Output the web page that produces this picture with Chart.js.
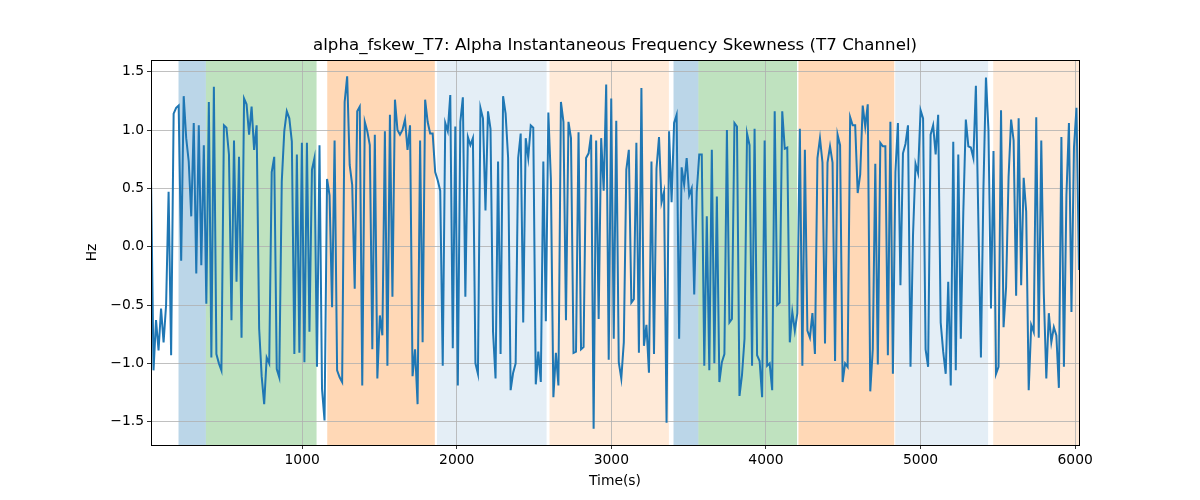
<!DOCTYPE html>
<html>
<head>
<meta charset="utf-8">
<script src="https://cdn.jsdelivr.net/npm/chart.js@4.4.1/dist/chart.umd.min.js"></script>
<style>
  html, body { margin: 0; padding: 0; background: #fff; }
  #wrap { width: 1200px; height: 500px; }
</style>
</head>
<body>
<div id="wrap"><canvas id="chart" width="1200" height="500"></canvas></div>
<script>
// sample times run evenly from first to last reading
const startTime = 22;
const endTime = 6025;

const fskewValues = [
  0.6, -1.06, -0.63, -0.89, -0.53, -0.82, -0.5, 0.47, -0.93, 1.14, 1.19, 1.21, -0.12, 1.29, 0.93, 0.73, 0.26, 1.06, -0.23, 1.04,
  -0.16, 0.87, -0.49, 1.24, -0.95, 1.37, -0.92, -1.0, -1.06, 1.04, 1.02, 0.79, -0.63, 0.91, -0.30, 0.77, -0.78,
  1.27, 1.22, 0.96, 1.2, 0.83, 1.04, -0.70, -1.11, -1.35, -0.95, -1.0, 0.64, 0.77, -1.05, -1.12, 0.56, 0.99, 1.16, 1.1, 0.9,
  -0.92, 0.79, -0.91, 0.89, -0.99, 0.89, -0.73, 0.66, 0.76, -1.03, 0.87, -1.22, -1.49, 0.58, 0.44, -0.52, 0.91, -1.06,
  -1.12, -1.16, 1.24, 1.46, 0.70, 0.53, -0.36, 1.16, 1.2, -1.19, 1.07, 0.99, 0.87, -0.88, 0.96, -1.13, -0.59, -0.76, 0.99, -1.02,
  1.13, -0.43, 1.26, 1.0, 0.96, 1.0, 1.09, 0.83, 1.04, -1.11, -0.88, -1.35, 0.91, -0.82, 1.26, 1.07,
  0.97, 0.97, 0.64, 0.57, 0.48, -1.02, 1.06, 0.99, 1.3, -0.87, 1.03, -1.19, 1.07, 1.28, -0.43, 0.94, 0.87, 0.93, -1.0, -1.09,
  1.19, 1.1, 0.31, 1.16, 1.01, -0.73, -1.13, 0.73, -0.92, 1.29, 1.14, 0.76, -1.23, -1.08, -1.0, 0.76, 0.97,
  -0.65, 0.93, 0.76, 1.04, 1.02, -1.18, -0.9, -1.16, 0.73, -0.64, 1.15, 0.58, -1.29, -0.91, -1.19, 1.24, 1.07, -0.63, 1.07, 0.93,
  -0.91, -0.9, 0.98, -0.88, -0.86, 0.76, 0.8, 0.96, -1.56, 0.91, -0.62, 0.93, 0.48, 1.39, -0.97, 1.27,
  -0.79, 1.08, -0.99, -1.13, -0.82, 0.66, 0.83, -0.48, -0.45, 0.89, -0.91, 1.36, -0.85, -0.67, -1.08, 0.73, -0.92, 0.67, 0.94, 0.38,
  0.47, -1.51, 0.99, 0.38, 1.06, 1.13, -0.79, 0.68, 0.53, 0.76, 0.44, 0.5, -0.41, 0.47, 0.79, 0.79,
  -1.02, 0.26, -1.06, 0.83, -1.0, 0.43, -1.16, -0.99, -0.92, 1.0, -0.65, -0.62, 1.06, 1.03, -1.28, -1.1, -0.79, 0.97, 0.87, -1.02,
  1.01, -0.93, -0.98, -1.29, 0.91, -1.02, -1.0, -1.23, 1.16, -0.5, -0.48, 1.16, 0.84, 0.85, -0.82, -0.56, -0.72,
  -0.57, 1.01, -1.02, 0.83, -0.72, -0.78, -0.57, -0.92, 0.76, 0.93, 0.72, -0.83, 0.72, 0.86, 0.72, -0.98, 0.96, 0.87, -1.16, -1.0,
  -1.03, 1.11, 1.04, 1.04, 0.46, 0.62, 1.21, 1.03, 1.22, -1.24, -0.88, 0.71, -1.01, 0.89, 0.86, 0.86, -0.93, 1.07, -1.09,
  0.64, 1.06, -0.33, 0.8, 0.88, 1.04, -1.03, 0.1, 0.71, 0.63, 1.17, 1.1, -0.88, -1.03, 0.96, 1.04, 0.79, 1.13, -0.65, -0.9,
  -1.09, -0.3, -1.19, 0.9, -1.06, 0.79, -0.79, 0.3, 1.09, 0.86, 0.85, 0.76, 1.38, 0.2, -0.95, 0.5, 1.45, 1.0, -0.53, 0.82, -1.09,
  -1.03, 1.17, -0.69, -0.35, 0.6, 1.09, 0.91, -0.42, 1.1, -0.33, 0.59, 0.3, -1.23, -0.67, -0.73, 1.11, -0.78, 0.91, -0.4, -1.13,
  -0.57, -0.82, -0.69, -0.76, -1.21, 0.94, -1.03, 0.44, 1.06, -0.56, 0.85, 1.19, -0.2
];

const xTicks = [1000, 2000, 3000, 4000, 5000, 6000];
const yTicks = [-1.5, -1.0, -0.5, 0.0, 0.5, 1.0, 1.5];

// shaded stage segments (seconds)
const spanStart = [200, 377, 1162, 1872, 2600, 3402, 3563, 4210, 4836, 5470];
const spanEnd   = [377, 1093, 1858, 2581, 3372, 3563, 4201, 4830, 5437, 6100];
const spanKind  = ['blue', 'green', 'orange', 'paleblue', 'paleorange', 'blue', 'green', 'orange', 'paleblue', 'paleorange'];

const chartTitle = 'alpha_fskew_T7: Alpha Instantaneous Frequency Skewness (T7 Channel)';

const kindColor = {
  blue: 'rgba(31, 119, 180, 0.3)',
  green: 'rgba(44, 160, 44, 0.3)',
  orange: 'rgba(255, 127, 14, 0.3)',
  paleblue: 'rgba(31, 119, 180, 0.12)',
  paleorange: 'rgba(255, 127, 14, 0.16)'
};

const step = (endTime - startTime) / (fskewValues.length - 1);
const points = fskewValues.map((v, i) => ({ x: startTime + i * step, y: v }));

const FONT = "'DejaVu Sans', sans-serif";
const TICK_SIZE = 13.89;

const spanPlugin = {
  id: 'spans',
  beforeDraw(chart) {
    const { ctx, chartArea: a, scales: { x } } = chart;
    ctx.save();
    ctx.beginPath();
    ctx.rect(a.left, a.top, a.right - a.left, a.bottom - a.top);
    ctx.clip();
    spanStart.forEach((s, i) => {
      const x0 = x.getPixelForValue(s);
      const x1 = x.getPixelForValue(spanEnd[i]);
      ctx.fillStyle = kindColor[spanKind[i]];
      ctx.fillRect(x0, a.top, x1 - x0, a.bottom - a.top);
    });
    ctx.restore();
  }
};

// frame + title centred over the plot area, like matplotlib does
const framePlugin = {
  id: 'frame',
  afterDraw(chart) {
    const { ctx, chartArea: a } = chart;
    ctx.save();
    ctx.strokeStyle = '#000';
    ctx.lineWidth = 1;
    ctx.strokeRect(Math.round(a.left) + 0.5, Math.round(a.top) + 0.5,
      Math.round(a.right - a.left), Math.round(a.bottom - a.top));
    ctx.fillStyle = '#000';
    ctx.font = '16.67px ' + FONT;
    ctx.textAlign = 'center';
    ctx.textBaseline = 'middle';
    ctx.fillText(chartTitle, (a.left + a.right) / 2, 46);
    ctx.restore();
  }
};

new Chart(document.getElementById('chart'), {
  type: 'line',
  data: {
    datasets: [{
      data: points,
      borderColor: '#1f77b4',
      borderWidth: 2,
      pointRadius: 0,
      tension: 0,
      fill: false
    }]
  },
  options: {
    responsive: false,
    animation: false,
    devicePixelRatio: 1,
    layout: { padding: { left: 80, right: 121, top: 60, bottom: 10 } },
    plugins: {
      legend: { display: false },
      tooltip: { enabled: false },
      title: { display: false }
    },
    scales: {
      x: {
        type: 'linear',
        min: startTime,
        max: endTime,
        afterBuildTicks: s => { s.ticks = xTicks.map(v => ({ value: v })); },
        afterFit: s => { s.height = 45; },
        ticks: {
          color: '#000',
          font: { family: FONT, size: TICK_SIZE },
          padding: 3,
          maxRotation: 0,
          callback: v => String(v)
        },
        grid: { color: '#b0b0b0', lineWidth: 0.8, tickLength: 4, tickColor: '#000' },
        border: { display: false },
        title: {
          display: true,
          text: 'Time(s)',
          color: '#000',
          font: { family: FONT, size: TICK_SIZE },
          padding: { top: 4, bottom: 0 }
        }
      },
      y: {
        min: -1.7,
        max: 1.6,
        afterBuildTicks: s => { s.ticks = yTicks.map(v => ({ value: v })); },
        afterFit: s => { s.width = 71; },
        ticks: {
          color: '#000',
          font: { family: FONT, size: TICK_SIZE },
          padding: 3,
          callback: v => v.toFixed(1).replace('-', '\u2212')
        },
        grid: { color: '#b0b0b0', lineWidth: 0.8, tickLength: 4, tickColor: '#000' },
        border: { display: false },
        title: {
          display: true,
          text: 'Hz',
          color: '#000',
          font: { family: FONT, size: TICK_SIZE },
          padding: { top: 4, bottom: 4 }
        }
      }
    }
  },
  plugins: [spanPlugin, framePlugin]
});
</script>
</body>
</html>
